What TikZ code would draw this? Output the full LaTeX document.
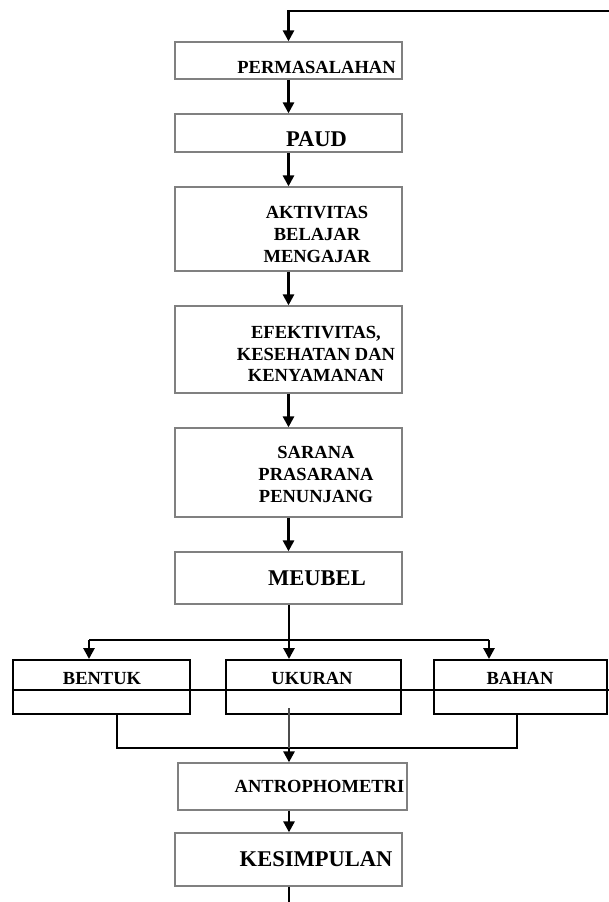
\documentclass[tikz,border=0pt]{standalone}
\usepackage{fontspec}
\setmainfont{Liberation Serif}
\usetikzlibrary{arrows.meta}

\begin{document}
\begin{tikzpicture}[x=1pt,y=-1pt,
  box/.style={draw=gray,line width=1.3pt,inner sep=0pt},
  cell/.style={draw,line width=2pt,inner sep=0pt},
  lbl/.style={font=\bfseries\fontsize{18.5}{21.8}\selectfont,align=center,inner sep=0pt},
  biglbl/.style={font=\bfseries\fontsize{22.5}{26}\selectfont,inner sep=0pt},
  flow/.style={line width=2.7pt},
  arr/.style={flow,-{Triangle[length=11pt,width=11pt]}}]
\useasboundingbox (0,0) rectangle (609,902);

\node[box,minimum width=227pt,minimum height=37pt] (perm) at (288.5,60.5) {};
\node[lbl,anchor=base] (permtext) at (316.5,73) {PERMASALAHAN};

\node[box,minimum width=227pt,minimum height=38pt] (paud) at (288.5,133) {};
\node[biglbl,anchor=base] (paudtext) at (316.5,146.7) {PAUD};

\node[box,minimum width=227pt,minimum height=84pt] (akt) at (288.5,229) {};
\node[lbl] (akttext) at (317,234.5) {AKTIVITAS\\BELAJAR\\MENGAJAR};

\node[box,minimum width=227pt,minimum height=87pt] (efk) at (288.5,349.5) {};
\node[lbl] (efktext) at (316,354) {EFEKTIVITAS,\\KESEHATAN DAN\\KENYAMANAN};

\node[box,minimum width=227pt,minimum height=89pt] (sar) at (288.5,472.5) {};
\node[lbl] (sartext) at (316,474.5) {SARANA\\PRASARANA\\PENUNJANG};

\node[box,minimum width=227pt,minimum height=52pt] (meu) at (288.5,578) {};
\node[biglbl,anchor=base] (meutext) at (317,585) {MEUBEL};

\node[cell,minimum width=177pt,minimum height=54pt] (bentuk) at (101.5,687) {};
\node[lbl,anchor=base] (bentuktext) at (102,684.3) {BENTUK};

\node[cell,minimum width=175pt,minimum height=54pt] (ukuran) at (313.5,687) {};
\node[lbl,anchor=base] (ukurantext) at (312,684.3) {UKURAN};

\node[cell,minimum width=173pt,minimum height=54pt] (bahan) at (520.5,687) {};
\node[lbl,anchor=base] (bahantext) at (520,684.3) {BAHAN};

\node[box,minimum width=229pt,minimum height=47pt] (antro) at (292.5,786.5) {};
\node[lbl,anchor=base] (antrotext) at (319.5,792.7) {ANTROPHOMETRI};

\node[box,minimum width=227pt,minimum height=53pt] (kes) at (288.5,859.5) {};
\node[biglbl,anchor=base] (kestext) at (316,866.7) {KESIMPULAN};

% loop back into the first box
\coordinate (loop) at (609,11);
\draw[arr] (loop) -- (loop -| perm.north) -- (perm.north);

\draw[arr] (perm.south) -- (paud.north);
\draw[arr] (paud.south) -- (akt.north);
\draw[arr] (akt.south) -- (efk.north);
\draw[arr] (efk.south) -- (sar.north);
\draw[arr] (sar.south) -- (meu.north);

% split into the three cells
\coordinate (split) at (289,640);
\coordinate (sl) at (89,640);
\coordinate (sr) at (489,640);
\draw[arr] (meu.south -| split) -- (split |- ukuran.north);
\draw[flow] (sl) -- (sr);
\draw[arr] (sl) -- (sl |- bentuk.north);
\draw[arr] (sr) -- (sr |- bahan.north);

% divider across the cells
\coordinate (divl) at (13,690);
\coordinate (divr) at (609,690);
\draw[line width=2pt] (divl) -- (divr);

% join below the cells
\coordinate (jl) at (117,748);
\coordinate (jm) at (289,748);
\coordinate (jr) at (517,748);
\coordinate (stub) at (289,708);
\draw[flow] (jl |- bentuk.south) -- (jl) -- (jr) -- (jr |- bahan.south);
\draw[line width=1.8pt,gray!60!black] (stub) -- (jm);
\draw[arr] (jm) -- (jm |- antro.north);
\draw[arr] (jm |- antro.south) -- (jm |- kes.north);

\coordinate (tail) at (289,902);
\draw[flow] (jm |- kes.south) -- (tail);
\end{tikzpicture}
\end{document}
